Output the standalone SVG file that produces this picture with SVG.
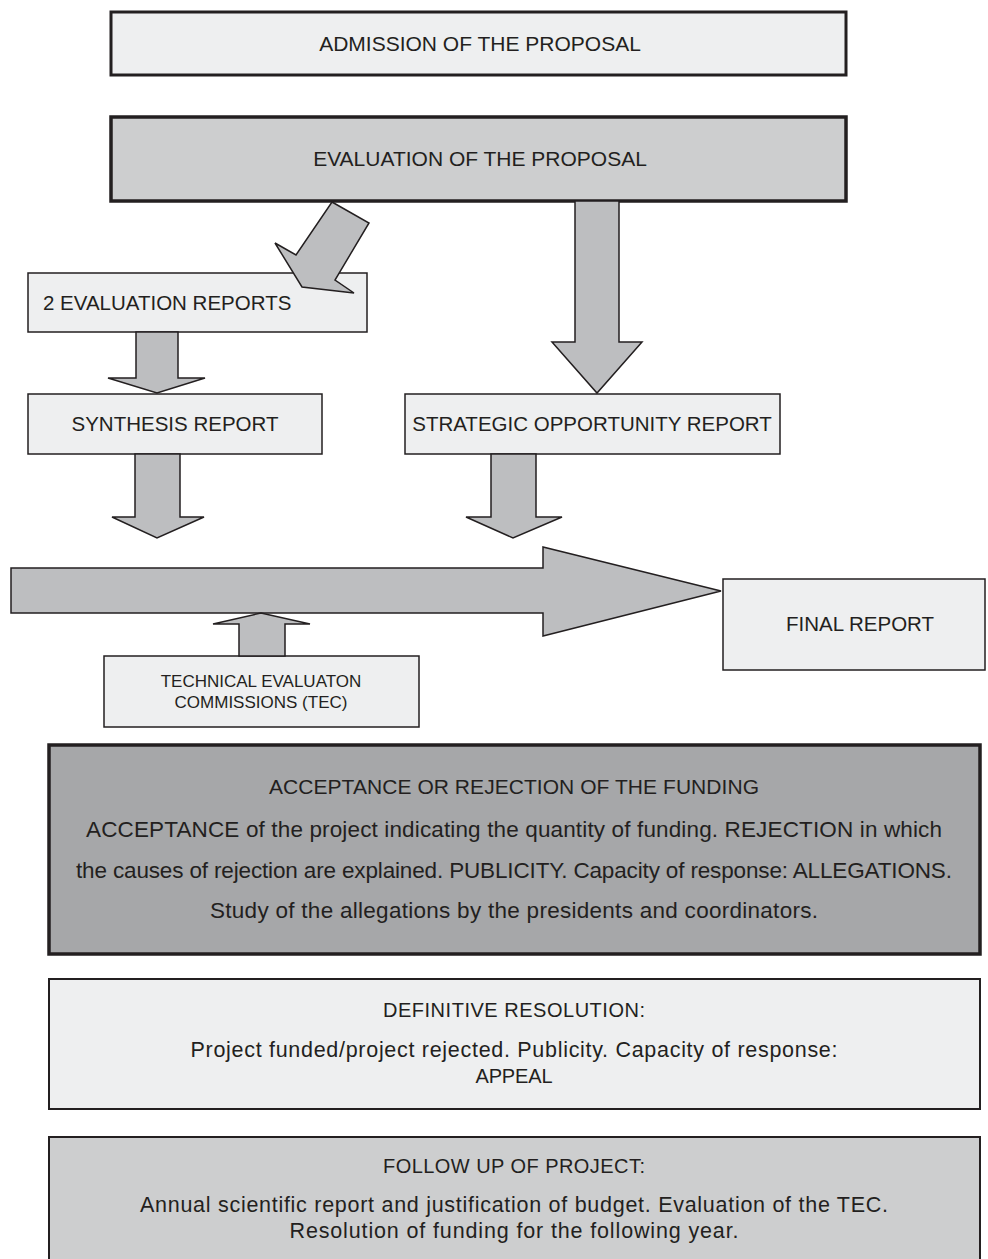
<svg xmlns="http://www.w3.org/2000/svg" width="988" height="1259" viewBox="0 0 988 1259">
<style>
text{font-family:"Liberation Sans",Arial,sans-serif;fill:#231f20;}
.mid{text-anchor:middle;}
.t21{font-size:21px;}
.t20{font-size:20.5px;}
.t17{font-size:17px;}
.tb{font-size:21px;}
.tbl{font-size:22.5px;}
.tc{font-size:20px;}
.tcl{font-size:21.5px;}
.light{fill:#eeeff0;stroke:#231f20;stroke-width:1.5;}
.arr{fill:#bdbec0;stroke:#231f20;stroke-width:1.5;stroke-linejoin:miter;}
</style>
<rect width="988" height="1259" fill="#ffffff"/>
<g id="admission">
<rect x="111" y="12" width="735" height="63" fill="#eeeff0" stroke="#231f20" stroke-width="3"/>
<text class="t21 mid" x="480" y="51">ADMISSION OF THE PROPOSAL</text>
</g>
<g id="evaluation">
<rect x="111" y="117" width="735" height="84" fill="#cdcecf" stroke="#231f20" stroke-width="3.5"/>
<text class="t21 mid" x="480" y="166">EVALUATION OF THE PROPOSAL</text>
</g>
<g id="eval-reports">
<rect class="light" x="28" y="273" width="339" height="59"/>
<text class="t20" x="43" y="310">2 EVALUATION REPORTS</text>
</g>
<g id="synthesis">
<rect class="light" x="28" y="394" width="294" height="60"/>
<text class="t20 mid" x="175" y="431">SYNTHESIS REPORT</text>
</g>
<g id="strategic">
<rect class="light" x="405" y="394" width="375" height="60"/>
<text class="t20 mid" x="592" y="431">STRATEGIC OPPORTUNITY REPORT</text>
</g>
<g id="final">
<rect class="light" x="723" y="579" width="262" height="91"/>
<text class="t20 mid" x="860" y="631">FINAL REPORT</text>
</g>
<g id="tec">
<rect class="light" x="104" y="656" width="315" height="71"/>
<text class="t17 mid" x="261" y="687">TECHNICAL EVALUATON</text>
<text class="t17 mid" x="261" y="708">COMMISSIONS (TEC)</text>
</g>
<g id="acceptance">
<rect x="49" y="745" width="931" height="209" fill="#a6a7a9" stroke="#231f20" stroke-width="3.5"/>
<text class="tb mid" x="514" y="794" textLength="490">ACCEPTANCE OR REJECTION OF THE FUNDING</text>
<text class="tbl mid" x="514" y="837" textLength="856">ACCEPTANCE of the project indicating the quantity of funding. REJECTION in which</text>
<text class="tbl mid" x="514" y="878" textLength="876">the causes of rejection are explained. PUBLICITY. Capacity of response: ALLEGATIONS.</text>
<text class="tbl mid" x="514" y="918" textLength="608">Study of the allegations by the presidents and coordinators.</text>
</g>
<g id="definitive">
<rect x="49" y="979" width="931" height="130" fill="#eeeff0" stroke="#231f20" stroke-width="2"/>
<text class="tc mid" x="514" y="1017" textLength="262">DEFINITIVE RESOLUTION:</text>
<text class="tcl mid" x="514" y="1057" textLength="647">Project funded/project rejected. Publicity. Capacity of response:</text>
<text class="tc mid" x="514" y="1083" textLength="77">APPEAL</text>
</g>
<g id="followup">
<rect x="49" y="1137" width="931" height="130" fill="#cdcecf" stroke="#231f20" stroke-width="2"/>
<text class="tc mid" x="514" y="1173" textLength="262">FOLLOW UP OF PROJECT:</text>
<text class="tcl mid" x="514" y="1212" textLength="748">Annual scientific report and justification of budget. Evaluation of the TEC.</text>
<text class="tcl mid" x="514" y="1238" textLength="449">Resolution of funding for the following year.</text>
</g>
<g id="connectors">
<polygon class="arr" points="332,202 369,223 335,280 354,293 302,287 275,243 296,255"/>
<polygon class="arr" points="575,201 619,201 619,342 642,342 597,393 552,342 575,342"/>
<polygon class="arr" points="136,332 178,332 178,378 205,378 157,393 108,378 136,378"/>
<polygon class="arr" points="135,454 180,454 180,517 204,517 157,538 112,517 135,517"/>
<polygon class="arr" points="491,454 536,454 536,517 562,517 513,538 466,517 491,517"/>
<polygon class="arr" points="11,568 543,568 543,547 721,591 543,636 543,613 11,613"/>
<polygon class="arr" points="239,656 285,656 285,624 310,624 261,613 213,624 239,624"/>
</g>
</svg>
